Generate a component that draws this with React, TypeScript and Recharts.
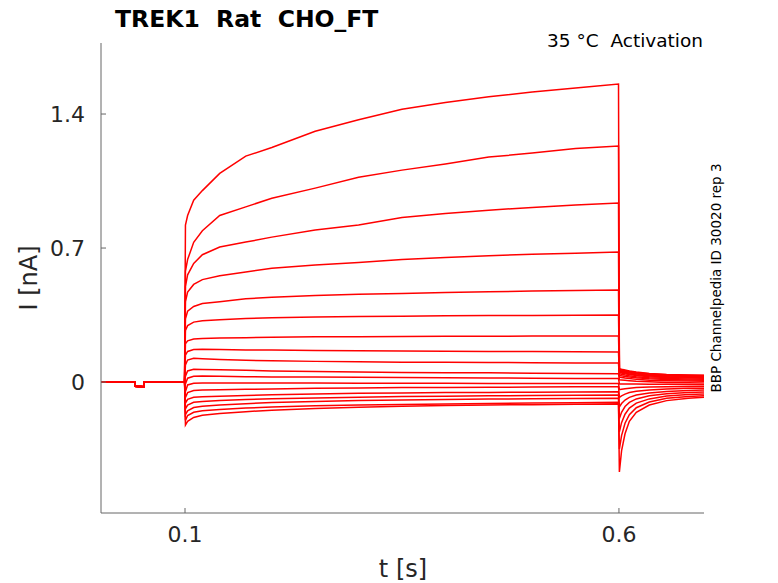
import { LineChart, Line, XAxis, YAxis } from 'recharts';

// sample times [s]
const time = [
  0.0032, 0.0423, 0.0425, 0.0527, 0.0529, 0.0995,
  0.1005, 0.103, 0.11, 0.12, 0.14, 0.17, 0.2, 0.25, 0.3, 0.35, 0.4, 0.45, 0.5, 0.55, 0.5995,
  0.6005, 0.603, 0.607, 0.612, 0.62, 0.635, 0.655, 0.68, 0.698,
];

// holding level with the short test pulse before the step [nA]
const holding = [0.002, 0.002, -0.022, -0.024, 0.002, 0.002];

// current during the voltage step, then the tail [nA]
const trace01 = [...holding, 0.82, 0.87, 0.95, 1.0, 1.09, 1.18, 1.225, 1.31, 1.37, 1.425, 1.46, 1.49, 1.515, 1.536, 1.557, 0.07, 0.067, 0.063, 0.058, 0.052, 0.045, 0.04, 0.037, 0.036];
const trace02 = [...holding, 0.58, 0.64, 0.73, 0.79, 0.87, 0.915, 0.96, 1.013, 1.07, 1.107, 1.139, 1.175, 1.196, 1.22, 1.233, 0.066, 0.063, 0.059, 0.055, 0.049, 0.043, 0.038, 0.035, 0.034];
const trace03 = [...holding, 0.5, 0.56, 0.62, 0.665, 0.705, 0.731, 0.757, 0.794, 0.82, 0.86, 0.88, 0.898, 0.912, 0.925, 0.935, 0.062, 0.059, 0.055, 0.051, 0.046, 0.04, 0.035, 0.032, 0.031];
const trace04 = [...holding, 0.42, 0.47, 0.51, 0.535, 0.555, 0.575, 0.595, 0.612, 0.625, 0.64, 0.65, 0.66, 0.667, 0.673, 0.679, 0.058, 0.055, 0.051, 0.047, 0.042, 0.036, 0.032, 0.029, 0.028];
const trace05 = [...holding, 0.33, 0.37, 0.395, 0.41, 0.42, 0.435, 0.443, 0.452, 0.458, 0.463, 0.468, 0.472, 0.475, 0.478, 0.481, 0.054, 0.051, 0.047, 0.043, 0.038, 0.032, 0.028, 0.025, 0.024];
const trace06 = [...holding, 0.27, 0.295, 0.313, 0.32, 0.326, 0.332, 0.336, 0.34, 0.342, 0.344, 0.346, 0.347, 0.348, 0.349, 0.35, 0.05, 0.047, 0.043, 0.039, 0.034, 0.028, 0.024, 0.021, 0.02];
const trace07 = [...holding, 0.2, 0.215, 0.225, 0.228, 0.23, 0.232, 0.234, 0.236, 0.237, 0.238, 0.239, 0.239, 0.24, 0.24, 0.24, 0.044, 0.041, 0.037, 0.033, 0.028, 0.023, 0.019, 0.016, 0.015];
const trace08 = [...holding, 0.14, 0.16, 0.17, 0.171, 0.17, 0.168, 0.167, 0.165, 0.163, 0.162, 0.161, 0.16, 0.159, 0.158, 0.157, 0.036, 0.033, 0.029, 0.026, 0.022, 0.017, 0.013, 0.011, 0.01];
const trace09 = [...holding, 0.09, 0.115, 0.124, 0.122, 0.118, 0.114, 0.111, 0.108, 0.106, 0.104, 0.103, 0.102, 0.101, 0.1, 0.099, 0.026, 0.024, 0.021, 0.018, 0.014, 0.01, 0.007, 0.005, 0.004];
const trace10 = [...holding, 0.03, 0.058, 0.067, 0.066, 0.064, 0.061, 0.058, 0.055, 0.052, 0.05, 0.049, 0.048, 0.046, 0.045, 0.044, 0.012, 0.011, 0.009, 0.007, 0.004, 0.001, -0.002, -0.004, -0.005];
const trace11 = [...holding, -0.01, 0.02, 0.03, 0.031, 0.03, 0.028, 0.027, 0.026, 0.025, 0.024, 0.022, 0.021, 0.02, 0.019, 0.018, -0.01, -0.01, -0.01, -0.01, -0.01, -0.011, -0.012, -0.013, -0.014];
const trace12 = [...holding, -0.05, -0.015, -0.006, -0.005, -0.005, -0.005, -0.005, -0.005, -0.006, -0.006, -0.006, -0.007, -0.007, -0.007, -0.007, -0.04, -0.038, -0.035, -0.032, -0.029, -0.026, -0.024, -0.023, -0.023];
const trace13 = [...holding, -0.08, -0.055, -0.044, -0.042, -0.04, -0.038, -0.036, -0.033, -0.031, -0.029, -0.028, -0.027, -0.026, -0.025, -0.025, -0.08, -0.072, -0.063, -0.055, -0.048, -0.041, -0.036, -0.033, -0.032];
const trace14 = [...holding, -0.11, -0.09, -0.08, -0.077, -0.074, -0.07, -0.066, -0.062, -0.059, -0.057, -0.055, -0.054, -0.053, -0.052, -0.051, -0.13, -0.112, -0.094, -0.08, -0.068, -0.057, -0.049, -0.044, -0.042];
const trace15 = [...holding, -0.14, -0.12, -0.106, -0.101, -0.096, -0.091, -0.087, -0.083, -0.079, -0.076, -0.074, -0.072, -0.07, -0.069, -0.068, -0.19, -0.158, -0.128, -0.106, -0.088, -0.072, -0.061, -0.055, -0.052];
const trace16 = [...holding, -0.17, -0.15, -0.133, -0.126, -0.12, -0.113, -0.107, -0.101, -0.097, -0.094, -0.091, -0.089, -0.087, -0.086, -0.085, -0.26, -0.212, -0.168, -0.136, -0.11, -0.088, -0.073, -0.065, -0.062];
const trace17 = [...holding, -0.2, -0.175, -0.158, -0.15, -0.143, -0.136, -0.13, -0.124, -0.12, -0.117, -0.114, -0.112, -0.11, -0.108, -0.106, -0.35, -0.28, -0.215, -0.17, -0.134, -0.104, -0.085, -0.075, -0.071];
const trace18 = [...holding, -0.225, -0.205, -0.185, -0.174, -0.164, -0.155, -0.147, -0.138, -0.132, -0.127, -0.123, -0.12, -0.118, -0.116, -0.114, -0.47, -0.36, -0.27, -0.205, -0.158, -0.12, -0.097, -0.085, -0.08];

const traces = [
  trace01, trace02, trace03, trace04, trace05, trace06, trace07, trace08, trace09,
  trace10, trace11, trace12, trace13, trace14, trace15, trace16, trace17, trace18,
];

const xTicks = [0.1, 0.6];
const yTicks = [0, 0.7, 1.4];

const data = time.map((t, i) => {
  const row: Record<string, number> = { t };
  traces.forEach((tr, k) => { row['s' + k] = tr[i]; });
  return row;
});

const FONT = '"DejaVu Sans", sans-serif';
const AXIS = '#666666';
const TEXT = '#262626';

const fmt = (v: number) => (v === 0 ? '0' : String(v));

function YTick(props: any) {
  const { x, y, payload } = props;
  return (
    <g>
      <line x1={x} x2={x + 5} y1={y} y2={y} stroke={AXIS} />
      <text x={x - 16} y={y} dy="0.36em" textAnchor="end" fill={TEXT} fontSize={22} fontFamily={FONT}>
        {fmt(payload.value)}
      </text>
    </g>
  );
}

function XTick(props: any) {
  const { x, y, payload } = props;
  return (
    <g>
      <line x1={x} x2={x} y1={y} y2={y - 5} stroke={AXIS} />
      <text x={x} y={y + 29} textAnchor="middle" fill={TEXT} fontSize={22} fontFamily={FONT}>
        {fmt(payload.value)}
      </text>
    </g>
  );
}

export default function App() {
  return (
    <div style={{ position: 'absolute', left: 0, top: 0, width: 778, height: 583, background: '#fff', fontFamily: FONT }}>
      <LineChart width={778} height={583} data={data} margin={{ top: 43, right: 74, bottom: 40, left: 41 }}>
        <XAxis
          dataKey="t"
          type="number"
          domain={[0.0032, 0.698]}
          ticks={xTicks}
          allowDataOverflow
          height={30}
          stroke={AXIS}
          tickLine={false}
          tickSize={0}
          tickMargin={0}
          tick={<XTick />}
          interval={0}
        />
        <YAxis
          type="number"
          domain={[-0.684, 1.771]}
          ticks={yTicks}
          allowDataOverflow
          width={60}
          stroke={AXIS}
          tickLine={false}
          tickSize={0}
          tickMargin={0}
          tick={<YTick />}
          interval={0}
        />
        {traces.map((_, k) => (
          <Line
            key={k}
            dataKey={'s' + k}
            type="linear"
            stroke="#ff0000"
            strokeWidth={1.5}
            dot={false}
            isAnimationActive={false}
          />
        ))}
      </LineChart>
      <svg width={778} height={583} style={{ position: 'absolute', left: 0, top: 0, pointerEvents: 'none' }}>
        <text x={115} y={27} fontSize={23.5} fontWeight="bold" fill="#000" fontFamily={FONT} style={{ whiteSpace: 'pre' }}>
          {'TREK1  Rat  CHO_FT'}
        </text>
        <text x={703} y={47} fontSize={18.5} fill="#000" textAnchor="end" fontFamily={FONT} style={{ whiteSpace: 'pre' }}>
          {'35 °C  Activation'}
        </text>
        <text x={403} y={577} fontSize={24} fill={TEXT} textAnchor="middle" fontFamily={FONT}>
          t [s]
        </text>
        <text x={37} y={278} fontSize={24} fill={TEXT} textAnchor="middle" fontFamily={FONT} transform="rotate(-90 37 278)">
          I [nA]
        </text>
        <text x={721} y={278} fontSize={13.5} fill="#000" textAnchor="middle" fontFamily={FONT} transform="rotate(-90 721 278)">
          BBP Channelpedia ID 30020 rep 3
        </text>
      </svg>
    </div>
  );
}
